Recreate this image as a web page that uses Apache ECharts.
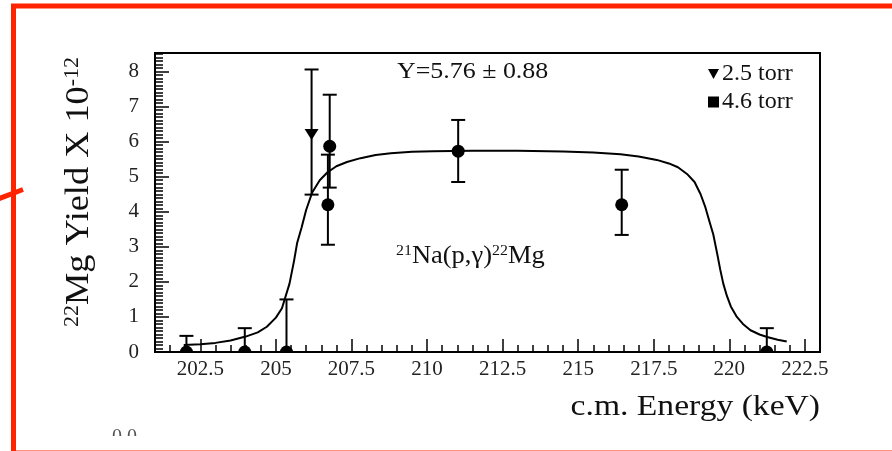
<!DOCTYPE html>
<html>
<head>
<meta charset="utf-8">
<script src="https://cdn.jsdelivr.net/npm/echarts@6/dist/echarts.min.js"></script>
<style>
  html, body { margin: 0; padding: 0; background: #fff; }
  #main { width: 892px; height: 451px; }
</style>
</head>
<body>
<div id="main"></div>
<script>
// data: [energy, yield, errLow, errHigh]
var torr25 = [
  [206.18, 6.22, 4.49, 8.06]
];
var torr46 = [
  [202.04, 0, 0, 0.46],
  [203.97, 0, 0, 0.68],
  [205.35, 0, 0, 1.50],
  [206.78, 5.87, 4.69, 7.34],
  [206.72, 4.20, 3.06, 5.63],
  [211.03, 5.73, 4.85, 6.62],
  [216.44, 4.20, 3.34, 5.20],
  [221.24, 0, 0, 0.68]
];
// fitted curve
var fitX = [201.95, 202.5, 203.0, 203.5, 204.0, 204.4, 204.7, 205.0, 205.2, 205.45, 205.6, 205.7, 205.85,
  206.0, 206.2, 206.45, 206.7, 207.0, 207.35, 207.8, 208.3, 208.8, 209.5, 210.2, 211.5, 213.0, 214.5,
  215.5, 216.4, 217.0, 217.6, 218.0, 218.3, 218.6, 218.85, 219.05, 219.2, 219.35, 219.47, 219.6, 219.7,
  219.8, 219.92, 220.05, 220.25, 220.45, 220.7, 221.0, 221.25, 221.6, 221.9];
var fitY = [0.20, 0.22, 0.26, 0.33, 0.44, 0.56, 0.72, 0.98, 1.25, 1.95, 2.6, 3.1, 3.55,
  4.05, 4.55, 4.9, 5.12, 5.3, 5.42, 5.53, 5.62, 5.67, 5.71, 5.73, 5.74, 5.74, 5.72,
  5.69, 5.64, 5.58, 5.48, 5.38, 5.27, 5.08, 4.85, 4.5, 4.15, 3.7, 3.35, 2.8, 2.35,
  1.95, 1.6, 1.3, 1.0, 0.8, 0.62, 0.5, 0.43, 0.35, 0.30];

var xTicks = [202.5, 205, 207.5, 210, 212.5, 215, 217.5, 220, 222.5];
var yTicks = [0, 1, 2, 3, 4, 5, 6, 7, 8];
var xMinor = [];
for (var i = 0; i < 43; i++) xMinor.push(201.5 + i * 0.5);
var yMinor = [];
for (var j = 1; j <= 85; j++) yMinor.push(+(j * 0.1).toFixed(1));

var serif = '"Liberation Serif", "DejaVu Serif", serif';

var chart = echarts.init(document.getElementById('main'));

function errRender(kind) {
  return function (params, api) {
    var x = api.value(0);
    var c = api.coord([x, api.value(1)]);
    var lo = api.coord([x, api.value(2)]);
    var hi = api.coord([x, api.value(3)]);
    var base = api.coord([x, 0])[1];
    var st = { stroke: '#000', lineWidth: 2 };
    var kids = [
      { type: 'line', shape: { x1: c[0], y1: lo[1], x2: c[0], y2: hi[1] }, style: st },
      { type: 'line', shape: { x1: c[0] - 7, y1: hi[1], x2: c[0] + 7, y2: hi[1] }, style: st }
    ];
    if (lo[1] < base - 1) {
      kids.push({ type: 'line', shape: { x1: c[0] - 7, y1: lo[1], x2: c[0] + 7, y2: lo[1] }, style: st });
    }
    if (c[1] >= base - 1) {
      // marker sits on the axis: only the upper half shows inside the frame
      kids.push({ type: 'sector', shape: { cx: c[0], cy: base, r0: 0, r: 6.5, startAngle: Math.PI, endAngle: Math.PI * 2 }, style: { fill: '#000' } });
    } else if (kind === 'tri') {
      kids.push({ type: 'polygon', shape: { points: [[c[0] - 7, c[1] - 5], [c[0] + 7, c[1] - 5], [c[0], c[1] + 6]] }, style: { fill: '#000' } });
    } else {
      kids.push({ type: 'circle', shape: { cx: c[0], cy: c[1], r: 6.5 }, style: { fill: '#000' } });
    }
    return { type: 'group', children: kids };
  };
}

var option = {
  backgroundColor: '#fff',
  animation: false,
  grid: { left: 155, top: 53, right: 72, bottom: 99, show: true, borderColor: '#000', borderWidth: 2, backgroundColor: 'transparent' },
  legend: {
    left: 708, top: 62, orient: 'vertical', itemGap: 4, itemWidth: 11, itemHeight: 11,
    padding: 0,
    textStyle: { fontFamily: serif, fontSize: 24, color: '#111', padding: [0, 0, 0, -2] },
    data: [
      { name: '2.5 torr', icon: 'path://M0,0L10,0L5,9Z' },
      { name: '4.6 torr', icon: 'rect' }
    ]
  },
  xAxis: [{
    type: 'value', min: 201, max: 223, position: 'bottom',
    axisLine: { lineStyle: { color: '#000', width: 2 } },
    axisTick: { inside: true, length: 13, customValues: xTicks, lineStyle: { color: '#000', width: 1.5 } },
    axisLabel: { customValues: xTicks, margin: 7, fontFamily: serif, fontSize: 21, color: '#222', formatter: function (v) { return String(v); } },
    splitLine: { show: false }
  }, {
    type: 'value', min: 201, max: 223, position: 'bottom',
    axisLine: { show: false },
    axisTick: { inside: true, length: 7, customValues: xMinor, lineStyle: { color: '#000', width: 1.5 } },
    axisLabel: { show: false },
    splitLine: { show: false }
  }],
  yAxis: [{
    type: 'value', min: 0, max: 8.53, position: 'left',
    axisLine: { show: true, lineStyle: { color: '#000', width: 2 } },
    axisTick: { show: true, inside: true, length: 14, customValues: yTicks, lineStyle: { color: '#000', width: 1.5 } },
    axisLabel: { customValues: yTicks, margin: 16, fontFamily: serif, fontSize: 21, color: '#222' },
    splitLine: { show: false }
  }, {
    type: 'value', min: 0, max: 8.53, position: 'left',
    axisLine: { show: false },
    axisTick: { show: true, inside: true, length: 8, customValues: yMinor, lineStyle: { color: '#000', width: 1.5 } },
    axisLabel: { show: false },
    splitLine: { show: false }
  }],
  series: [{
    name: 'fit', type: 'line', xAxisIndex: 0, yAxisIndex: 0,
    data: fitX.map(function (x, k) { return [x, fitY[k]]; }),
    showSymbol: false, lineStyle: { color: '#000', width: 2 }, z: 2
  }, {
    name: '2.5 torr', type: 'custom', xAxisIndex: 0, yAxisIndex: 0, clip: true,
    itemStyle: { color: '#000' },
    renderItem: errRender('tri'), data: torr25, z: 3
  }, {
    name: '4.6 torr', type: 'custom', xAxisIndex: 0, yAxisIndex: 0, clip: true,
    itemStyle: { color: '#000' },
    renderItem: errRender('circle'), data: torr46, z: 3
  }],
  graphic: [
    { type: 'text', x: 397, y: 72, scaleX: 1.08, style: { text: 'Y=5.76 \u00b1 0.88', font: '24px ' + serif, fill: '#111', verticalAlign: 'middle' } },
    { type: 'text', x: 396, y: 256, scaleX: 1.06, style: {
      text: '{s|21}Na(p,\u03b3){s|22}Mg', font: '25px ' + serif, fill: '#111', verticalAlign: 'middle',
      rich: { s: { fontSize: 15, verticalAlign: 'top', fontFamily: serif } }
    } },
    { type: 'text', x: 820, y: 407, scaleX: 1.12, style: { text: 'c.m. Energy (keV)', font: '30px ' + serif, fill: '#111', align: 'right', verticalAlign: 'middle' } },
    { type: 'text', x: 79, y: 192, rotation: Math.PI / 2, scaleX: 1.1, style: {
      text: '{s|22}Mg Yield X 10{s|-12}', font: '33px ' + serif, fill: '#111', align: 'center', verticalAlign: 'middle',
      rich: { s: { fontSize: 20, verticalAlign: 'top', fontFamily: serif } }
    } },
    { type: 'text', left: 112, top: 428, style: { text: '0.0', font: '20px ' + serif, fill: '#555' } },
    { type: 'rect', shape: { x: 90, y: 436, width: 80, height: 11 }, style: { fill: '#fff' } },
    { type: 'rect', shape: { x: 13.5, y: 6, width: 881.5, height: 447 }, style: { fill: 'none', stroke: '#ff2400', lineWidth: 5 } },
    { type: 'line', shape: { x1: -10, y1: 202, x2: 23, y2: 189.5 }, style: { stroke: '#ff2400', lineWidth: 5 } }
  ]
};
chart.setOption(option);
</script>
</body>
</html>
